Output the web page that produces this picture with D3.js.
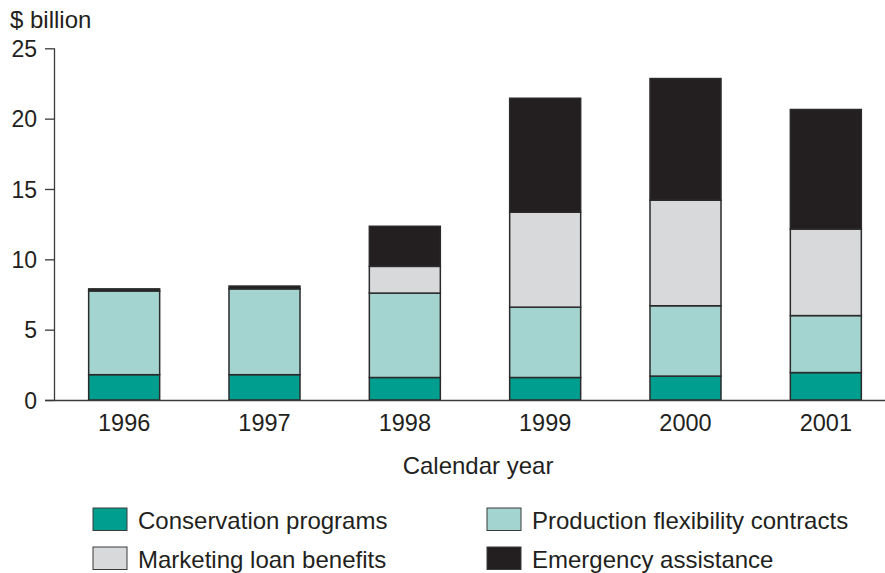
<!DOCTYPE html>
<html>
<head>
<meta charset="utf-8">
<script src="https://cdn.jsdelivr.net/npm/d3@7"></script>
<style>
  html, body { margin: 0; padding: 0; background: #fff; }
  svg { display: block; }
  text { font-family: "Liberation Sans", Arial, Helvetica, sans-serif; fill: #231f20; }
</style>
</head>
<body>
<svg id="chart" width="885" height="573"></svg>
<script>
// ---- data ----
const years = ["1996", "1997", "1998", "1999", "2000", "2001"];
const conservation = [1.8, 1.8, 1.6, 1.6, 1.7, 1.95];
const productionFlex = [5.95, 6.1, 6.0, 5.0, 5.0, 4.05];
const marketingLoan = [0.0, 0.0, 1.9, 6.75, 7.5, 6.15];
const emergency = [0.15, 0.2, 2.85, 8.1, 8.65, 8.5];
const seriesNames = ["Conservation programs", "Production flexibility contracts", "Marketing loan benefits", "Emergency assistance"];
const seriesColors = ["#009e8f", "#a3d4d0", "#d8d9db", "#231f20"];
const yTicks = [0, 5, 10, 15, 20, 25];
const yLabel = "$ billion";
const xLabel = "Calendar year";

// ---- build table ----
const keys = ["cons", "pfc", "mlb", "ea"];
const table = years.map((y, i) => ({
  year: y, cons: conservation[i], pfc: productionFlex[i], mlb: marketingLoan[i], ea: emergency[i]
}));
const stacked = d3.stack().keys(keys)(table);

const svg = d3.select("#chart");
const x = d3.scaleBand().domain(years).range([54, 896]).paddingInner(0.494).paddingOuter(0.247);
const y = d3.scaleLinear().domain([0, 25]).range([400, 48.3]);
const color = d3.scaleOrdinal().domain(keys).range(seriesColors);

// bars
svg.append("g").selectAll("g").data(stacked).join("g")
  .attr("fill", d => color(d.key))
  .selectAll("rect").data(d => d).join("rect")
  .attr("x", d => x(d.data.year))
  .attr("width", x.bandwidth())
  .attr("y", d => y(d[1]))
  .attr("height", d => Math.max(0, y(d[0]) - y(d[1])))
  .attr("stroke", "#2b2b2b")
  .attr("stroke-width", 1.5);

// y axis
const yAxis = svg.append("g").attr("transform", "translate(54,0)")
  .call(d3.axisLeft(y).tickValues(yTicks).tickSize(9).tickPadding(8).tickFormat(d3.format("d")));
yAxis.select(".domain").attr("stroke", "#3a3a3a").attr("stroke-width", 1.3).attr("d", "M0.5,400V48.3");
yAxis.selectAll(".tick line").attr("stroke", "#3a3a3a").attr("stroke-width", 1.3);
yAxis.selectAll(".tick text").style("font-size", "23px").attr("fill", "#231f20")
  .attr("font-family", null).attr("x", -17).attr("dy", "0.36em");

// x axis
const xAxis = svg.append("g").attr("transform", "translate(0,400)")
  .call(d3.axisBottom(x).tickSize(0).tickPadding(14));
xAxis.select(".domain").attr("stroke", "#3a3a3a").attr("stroke-width", 1.5).attr("d", "M45,0.5H885");
xAxis.selectAll(".tick text").style("font-size", "23.5px").attr("fill", "#231f20")
  .attr("font-family", null).attr("dy", "0.71em");

// axis titles
svg.append("text").attr("x", 10).attr("y", 28).style("font-size", "24px").text(yLabel);
svg.append("text").attr("x", 478).attr("y", 474).attr("text-anchor", "middle").style("font-size", "24px").text(xLabel);

// legend
const legendPos = [
  {x: 93, y: 508}, {x: 487, y: 508}, {x: 93, y: 547}, {x: 487, y: 547}
];
const lg = svg.append("g").selectAll("g").data(seriesNames).join("g")
  .attr("transform", (d, i) => `translate(${legendPos[i].x},${legendPos[i].y})`);
lg.append("rect").attr("width", 34).attr("height", 22.5)
  .attr("fill", (d, i) => seriesColors[i]).attr("stroke", "#3a3a3a").attr("stroke-width", 1);
lg.append("text").attr("x", 45).attr("y", 21).style("font-size", "24px").text(d => d);
</script>
</body>
</html>
